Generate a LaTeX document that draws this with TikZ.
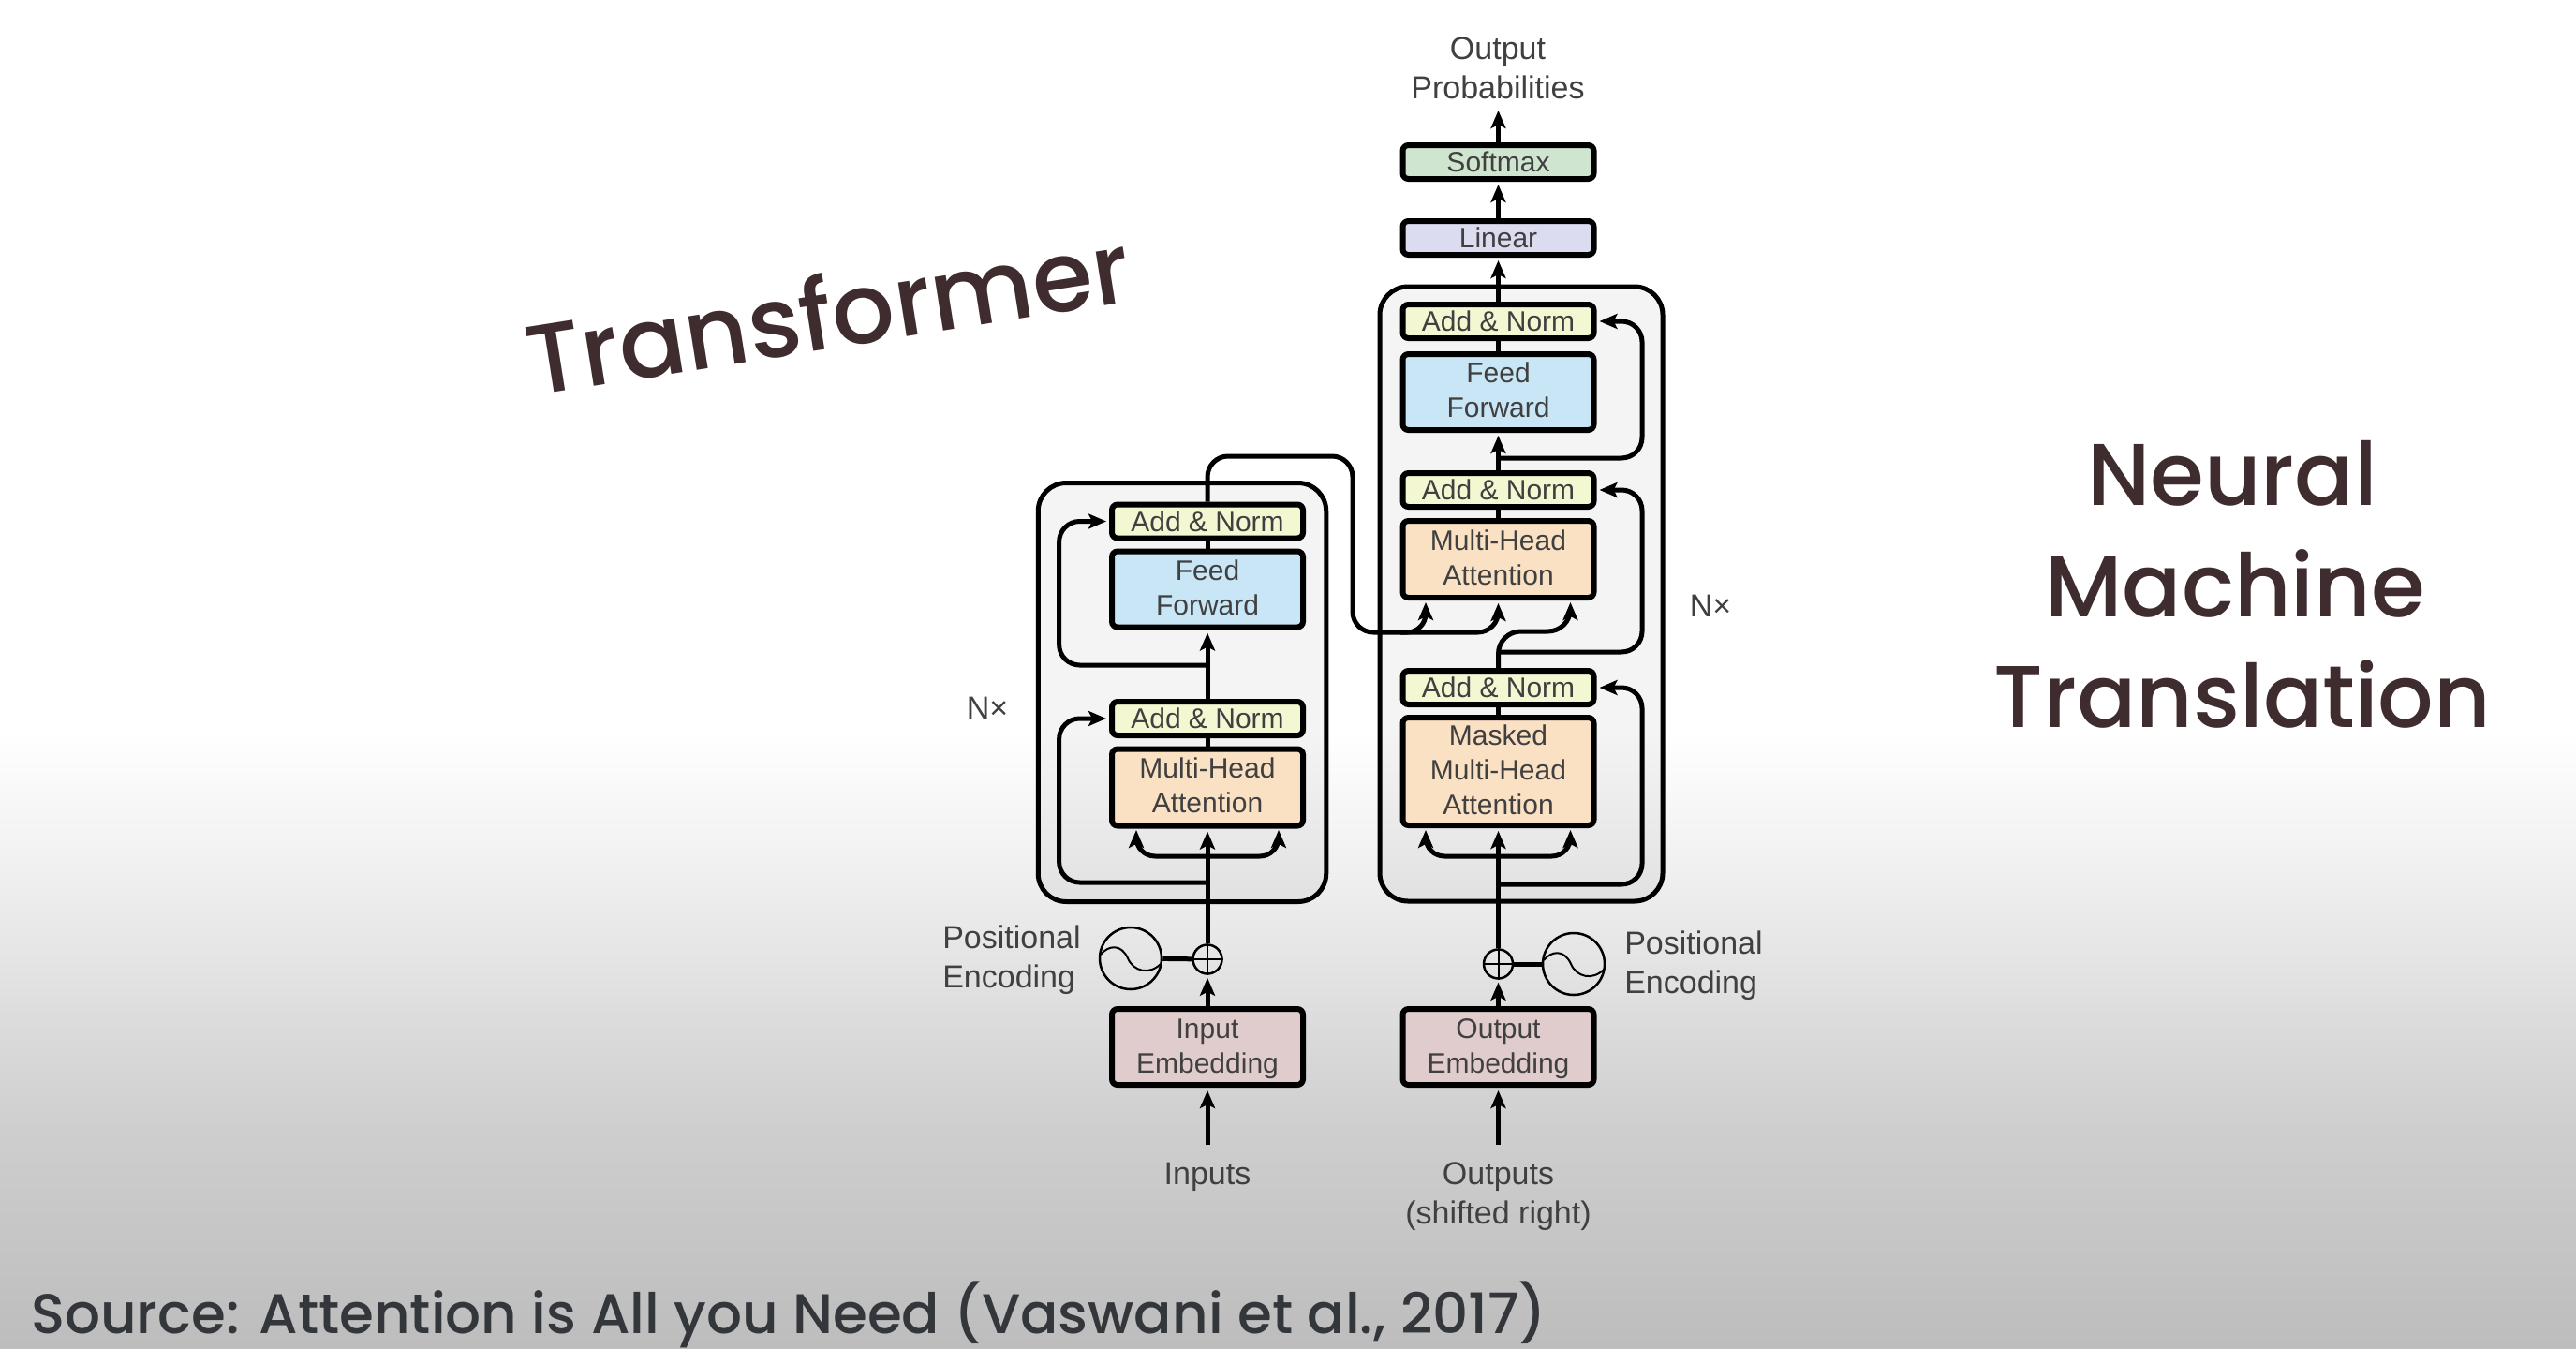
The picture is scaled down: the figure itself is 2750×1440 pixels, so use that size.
\documentclass[tikz,border=0pt]{standalone}
\usepackage{fontspec}
\setmainfont{Liberation Sans}
\newfontfamily\headfont{Poppins Medium}
\usetikzlibrary{arrows.meta,calc}
\definecolor{txt}{HTML}{404040}
\definecolor{headc}{HTML}{3E2C2E}
\definecolor{srcc}{HTML}{33363A}
\definecolor{cAdd}{HTML}{F3F7D2}
\definecolor{cFF}{HTML}{C9E6F7}
\definecolor{cMHA}{HTML}{FBE1C4}
\definecolor{cEmb}{HTML}{E0CCCC}
\definecolor{cSoft}{HTML}{CFE5D0}
\definecolor{cLin}{HTML}{DCDCF0}
\newcommand{\embstrut}{\rule{0pt}{26pt}}
\tikzset{
  blk/.style={draw=black,line width=6pt,rounded corners=6pt,minimum width=204pt,inner sep=0pt,
    align=center,text=txt,font=\fontsize{30}{37}\selectfont},
  addn/.style={blk,fill=cAdd,minimum height=36pt},
  ffb/.style={blk,fill=cFF,minimum height=81pt,text depth=4pt},
  mha/.style={blk,fill=cMHA,minimum height=82pt,text depth=4pt},
  emb/.style={blk,fill=cEmb,minimum height=81pt},
  container/.style={draw=black,line width=5pt,rounded corners=30pt,fill=black,fill opacity=.045,draw opacity=1,inner sep=0pt},
  flow/.style={draw=black,line width=5pt,-{Stealth[length=19pt,width=16pt,inset=4pt]},shorten >=3pt,rounded corners=22pt},
  twoway/.style={draw=black,line width=5pt,{Stealth[length=19pt,width=16pt,inset=4pt]}-{Stealth[length=19pt,width=16pt,inset=4pt]},shorten >=3pt,shorten <=3pt,rounded corners=20pt},
  wire/.style={draw=black,line width=5pt},
  lbl/.style={text=txt,font=\fontsize{34}{42}\selectfont,align=center,inner sep=0pt},
  lbll/.style={lbl,align=left},
  plusc/.style={circle,draw=black,line width=2.5pt,minimum size=31pt,inner sep=0pt,fill=none},
  sinc/.style={circle,draw=black,line width=2.5pt,minimum size=66pt,inner sep=0pt},
  sinw/.style={draw=black,line width=2pt},
  head/.style={text=headc,inner sep=0pt,font=\headfont\fontsize{93.5}{100}\selectfont},
}
\begin{document}
\begin{tikzpicture}[x=1pt,y=-1pt]
\useasboundingbox (0,0) rectangle (2750,1440);
% background
\fill[white] (0,0) rectangle (2750,781);
\shade[top color=white,bottom color=black!6] (0,780) rectangle (2750,931);
\shade[top color=black!6,bottom color=black!19] (0,930) rectangle (2750,1201);
\shade[top color=black!19,bottom color=black!26] (0,1200) rectangle (2750,1440);
% containers
\node[container,minimum width=307.5pt,minimum height=447pt] (encbox) at (1262,739) {};
\node[container,minimum width=302pt,minimum height=656pt] (decbox) at (1624,634) {};
% encoder
\node[emb] (iemb) at (1289,1117.5) {\embstrut Input\\Embedding};
\node[mha] (lmha) at (1289,840.5) {Multi-Head\\Attention};
\node[addn] (ladd2) at (1289,767) {Add \& Norm};
\node[ffb] (lff) at (1289,629) {Feed\\Forward};
\node[addn] (ladd1) at (1289,556.5) {Add \& Norm};
\node[plusc] (lplus) at (1289,1024) {};
\node[sinc] (lsin) at (1207,1023) {};
% decoder
\node[emb] (oemb) at (1599.5,1117.5) {\embstrut Output\\Embedding};
\node[plusc] (rplus) at (1599.5,1029) {};
\node[sinc] (rsin) at (1680,1029) {};
\node[mha,minimum height=115pt] (rmm) at (1599.5,823.5) {Masked\\Multi-Head\\Attention};
\node[addn] (radd3) at (1599.5,734) {Add \& Norm};
\node[mha] (rmha) at (1599.5,597) {Multi-Head\\Attention};
\node[addn] (radd2) at (1599.5,523) {Add \& Norm};
\node[ffb] (rff) at (1599.5,418.5) {Feed\\Forward};
\node[addn] (radd1) at (1599.5,343) {Add \& Norm};
\node[blk,fill=cLin,minimum height=36pt] (lin) at (1599.5,254) {Linear};
\node[blk,fill=cSoft,minimum height=36pt] (soft) at (1599.5,173) {Softmax};
% labels
\node[lbl] (outprob) at (1599,73) {Output\\Probabilities};
\node[lbl] (inp) at (1289,1256) {Inputs};
\node[lbl] (outp) at (1599.5,1277) {Outputs\\(shifted right)};
\node[lbll] (lpe) at (1080,1025) {Positional\\Encoding};
\node[lbll] (rpe) at (1808,1031) {Positional\\Encoding};
\node[lbl] (nl) at (1054,756) {N×};
\node[lbl] (nr) at (1826,647) {N×};
% free ends
\coordinate (inS) at (1289,1222);
\coordinate (outS) at (1599.5,1222);
\coordinate (topT) at (1599.5,115);
% junctions
\coordinate (j1) at (1289,942);
\coordinate (c1) at (1130.6,942);
\coordinate (j2) at (1289,710);
\coordinate (c2) at (1130.6,710);
\coordinate (j3) at (1599.5,944);
\coordinate (c3) at (1753,944);
\coordinate (j4) at (1599.5,696);
\coordinate (c4) at (1753,696);
\coordinate (j5) at (1599.5,489);
\coordinate (c5) at (1753,489);
\coordinate (ltop) at (1289,487);
\coordinate (rise) at (1444,487);
\coordinate (fall) at (1444,675);
\coordinate (h1) at (1522,675);
\coordinate (h0) at (1495,675);
\coordinate (h2) at (1599.5,675);
\coordinate (k0) at (1599.5,674);
\coordinate (k1) at (1676.5,674);
\coordinate (lL) at (1213,883);
\coordinate (lR) at (1365,883);
\coordinate (lLb) at (1213,914);
\coordinate (lRb) at (1365,914);
\coordinate (rL) at (1522,883);
\coordinate (rR) at (1676.5,883);
\coordinate (rLb) at (1522,914);
\coordinate (rRb) at (1676.5,914);
\coordinate (mL) at (1522,640);
\coordinate (mR) at (1676.5,640);
% encoder connectors
\draw[flow] (inS) -- (iemb);
\draw[flow] (iemb) -- (lplus);
\draw[flow] (lplus) -- (lmha);
\draw[twoway] (lL) -- (lLb) -- (lRb) -- (lR);
\draw[wire] (lmha) -- (ladd2);
\draw[flow] (ladd2) -- (lff);
\draw[wire] (lff) -- (ladd1);
\draw[flow] (j1) -- (c1) |- (ladd2);
\draw[flow] (j2) -- (c2) |- (ladd1);
\draw[wire] (lsin) -- (lplus);
% decoder connectors
\draw[flow] (outS) -- (oemb);
\draw[flow] (oemb) -- (rplus);
\draw[flow] (rplus) -- (rmm);
\draw[twoway] (rL) -- (rLb) -- (rRb) -- (rR);
\draw[wire] (rmm) -- (radd3);
\draw[wire] (rsin) -- (rplus);
\draw[flow] (j3) -- (c3) |- (radd3);
\draw[flow,rounded corners=24pt] (radd3) -- (k0) -- (k1) -- (mR);
\draw[flow] (j4) -- (c4) |- (radd2);
\draw[wire] (rmha) -- (radd2);
\draw[flow] (radd2) -- (rff);
\draw[wire] (rff) -- (radd1);
\draw[flow] (j5) -- (c5) |- (radd1);
\draw[flow] (radd1) -- (lin);
\draw[flow] (lin) -- (soft);
\draw[flow] (soft) -- (topT);
% encoder to decoder
\draw[flow] (ladd1) -- (ltop) -- (rise) -- (fall) -- (h2) -- (rmha);
\draw[flow,rounded corners=20pt] (h0) -- (h1) -- (mL);
% plus signs
\draw[sinw] (lplus.north) -- (lplus.south) (lplus.west) -- (lplus.east);
\draw[sinw] (rplus.north) -- (rplus.south) (rplus.west) -- (rplus.east);
% sine waves
\begin{scope}[shift={(lsin.center)}]
\draw[sinw] (-32,-4) .. controls (-24,-14) and (-10,-16) .. (-3,0) .. controls (3,14) and (20,18) .. (32,6);
\end{scope}
\begin{scope}[shift={(rsin.center)}]
\draw[sinw] (-32,-4) .. controls (-24,-14) and (-10,-16) .. (-3,0) .. controls (3,14) and (20,18) .. (32,6);
\end{scope}
% headlines
\node[head,anchor=base] (t1) at (2383,539) {Neural};
\node[head,anchor=base] (t2) at (2386,658) {Machine};
\node[head,anchor=base] (t3) at (2394,776) {Translation};
\node[head,anchor=base west,rotate=9,font=\headfont\fontsize{105}{110}\selectfont] (t4) at (568,423) {Transformer};
\node[anchor=base west,inner sep=0pt,text=srcc,font=\headfont\fontsize{59.6}{60}\selectfont] (src) at (33,1423) {Source: Attention is All you Need (Vaswani et al., 2017)};
\end{tikzpicture}
\end{document}
